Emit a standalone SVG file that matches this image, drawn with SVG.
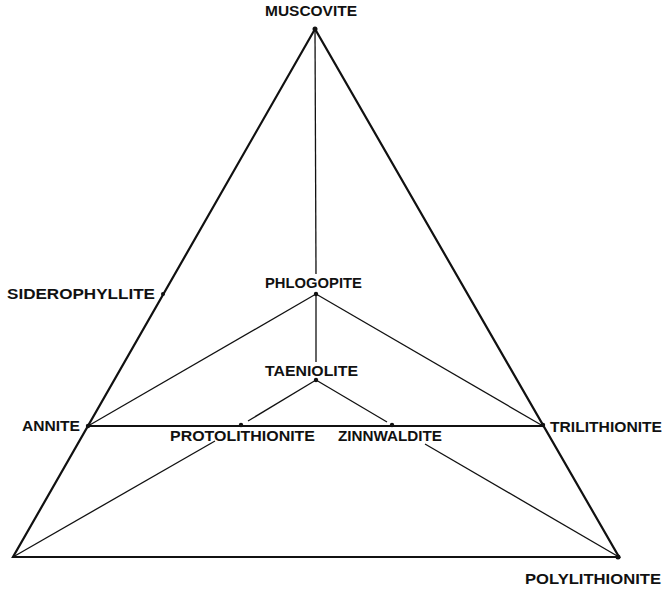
<svg xmlns="http://www.w3.org/2000/svg" width="663" height="589" viewBox="0 0 663 589">
<style>
.t{font-family:"Liberation Sans",Arial,sans-serif;font-weight:bold;font-size:14px;fill:#111}
.e{stroke:#111;stroke-width:2.2;fill:none;stroke-linecap:round}
.l{stroke:#111;stroke-width:1.3;fill:none}
.d{fill:#111}
</style>
<rect width="663" height="589" fill="#fff"/>
<g id="connectors">
<path class="e" d="M315,29 L13,557 L619,557 Z"/>
<line class="e" x1="88" y1="426" x2="543" y2="426"/>
<line class="l" x1="315" y1="29" x2="316" y2="274"/>
<line class="l" x1="316" y1="294" x2="316" y2="362"/>
<line class="l" x1="316" y1="294" x2="88" y2="426"/>
<line class="l" x1="316" y1="294" x2="543" y2="426"/>
<line class="l" x1="316" y1="380" x2="248" y2="421"/>
<line class="l" x1="316" y1="380" x2="387" y2="422"/>
<line class="l" x1="13" y1="557" x2="215" y2="441"/>
<line class="l" x1="619" y1="557" x2="425" y2="444"/>
</g>
<g id="muscovite"><circle class="d" cx="315" cy="29" r="2.5"/><text class="t" x="265" y="16" textLength="92" lengthAdjust="spacingAndGlyphs">MUSCOVITE</text></g>
<g id="siderophyllite"><circle class="d" cx="163" cy="294" r="2"/><text class="t" x="7" y="299" textLength="148" lengthAdjust="spacingAndGlyphs">SIDEROPHYLLITE</text></g>
<g id="phlogopite"><circle class="d" cx="316" cy="294" r="2.2"/><text class="t" x="265" y="288" textLength="97" lengthAdjust="spacingAndGlyphs">PHLOGOPITE</text></g>
<g id="taeniolite"><circle class="d" cx="316" cy="380" r="2.2"/><text class="t" x="265" y="376" textLength="93" lengthAdjust="spacingAndGlyphs">TAENIOLITE</text></g>
<g id="annite"><circle class="d" cx="88" cy="426" r="2.2"/><text class="t" x="22" y="431" textLength="58" lengthAdjust="spacingAndGlyphs">ANNITE</text></g>
<g id="trilithionite"><circle class="d" cx="543" cy="425" r="2.2"/><text class="t" x="550" y="432" textLength="112" lengthAdjust="spacingAndGlyphs">TRILITHIONITE</text></g>
<g id="protolithionite"><circle class="d" cx="241" cy="425" r="2.2"/><text class="t" x="170" y="441" textLength="145" lengthAdjust="spacingAndGlyphs">PROTOLITHIONITE</text></g>
<g id="zinnwaldite"><circle class="d" cx="392" cy="425" r="2.2"/><text class="t" x="338" y="441" textLength="104" lengthAdjust="spacingAndGlyphs">ZINNWALDITE</text></g>
<g id="polylithionite"><circle class="d" cx="618" cy="557" r="2.5"/><text class="t" x="525" y="584" textLength="136" lengthAdjust="spacingAndGlyphs">POLYLITHIONITE</text></g>
</svg>
